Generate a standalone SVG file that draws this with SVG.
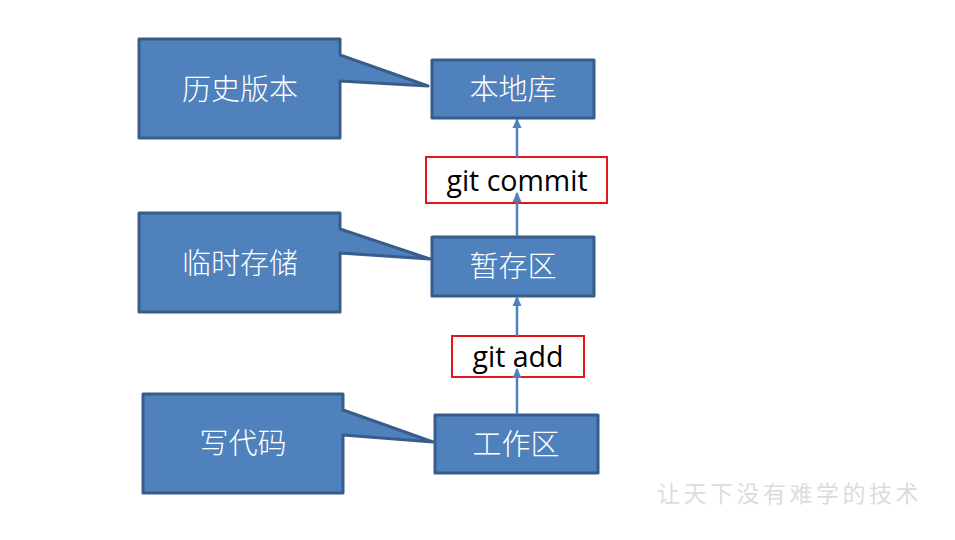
<svg xmlns="http://www.w3.org/2000/svg" width="955" height="540" viewBox="0 0 955 540">
<defs>
<marker id="ah" markerWidth="10" markerHeight="10" refX="9" refY="5" orient="auto" markerUnits="userSpaceOnUse">
<path d="M0,0.5 L10,5 L0,9.5 Z" fill="#4F81BD"/>
</marker>
<style>
.shape{fill:#4F81BD;stroke:#385D8A;stroke-width:3;stroke-linejoin:round}
.wt{fill:#FFFFFF;font-family:"Noto Sans CJK SC",sans-serif;font-size:29px;font-weight:300;text-anchor:middle}
.lbl{fill:#FFFFFF;stroke:#E3161B;stroke-width:2}
.lt{fill:#000000;font-family:"Open Sans","Liberation Sans",sans-serif;font-size:28.5px;text-anchor:middle}
.conn{stroke:#4F81BD;stroke-width:2.5;fill:none}
</style>
</defs>
<rect width="955" height="540" fill="#FFFFFF"/>
<g id="callout-history">
<path class="shape" d="M139,39 H340 V55 L428,86 L340,81 V138 H139 Z"/>
<text class="wt" x="240" y="100">历史版本</text>
</g>
<g id="callout-temp">
<path class="shape" d="M139,213 H340 V229 L430,259 L340,253 V312 H139 Z"/>
<text class="wt" x="240" y="274">临时存储</text>
</g>
<g id="callout-code">
<path class="shape" d="M143,394 H343 V410 L433,442 L343,435 V493 H143 Z"/>
<text class="wt" x="243" y="454">写代码</text>
</g>
<g id="node-local">
<rect class="shape" x="432" y="60" width="162" height="58"/>
<text class="wt" x="513" y="100">本地库</text>
</g>
<g id="node-stage">
<rect class="shape" x="432" y="237" width="162" height="59"/>
<text class="wt" x="513" y="277">暂存区</text>
</g>
<g id="node-work">
<rect class="shape" x="435" y="415" width="163" height="58"/>
<text class="wt" x="516" y="455">工作区</text>
</g>
<g id="label-commit">
<rect class="lbl" x="426" y="157" width="181" height="46"/>
<text class="lt" x="517" y="191">git commit</text>
</g>
<g id="label-add">
<rect class="lbl" x="452" y="336" width="132" height="41"/>
<text class="lt" x="518" y="367">git add</text>
</g>
<g id="connectors">
<line class="conn" x1="517" y1="157" x2="517" y2="119" marker-end="url(#ah)"/>
<line class="conn" x1="517" y1="236" x2="517" y2="193" marker-end="url(#ah)"/>
<line class="conn" x1="517" y1="336" x2="517" y2="297" marker-end="url(#ah)"/>
<line class="conn" x1="517" y1="414" x2="517" y2="369" marker-end="url(#ah)"/>
</g>
<text x="657" y="502" fill="#DCDCDC" font-family="Noto Sans CJK SC,sans-serif" font-size="23" letter-spacing="3.5">让天下没有难学的技术</text>
</svg>
